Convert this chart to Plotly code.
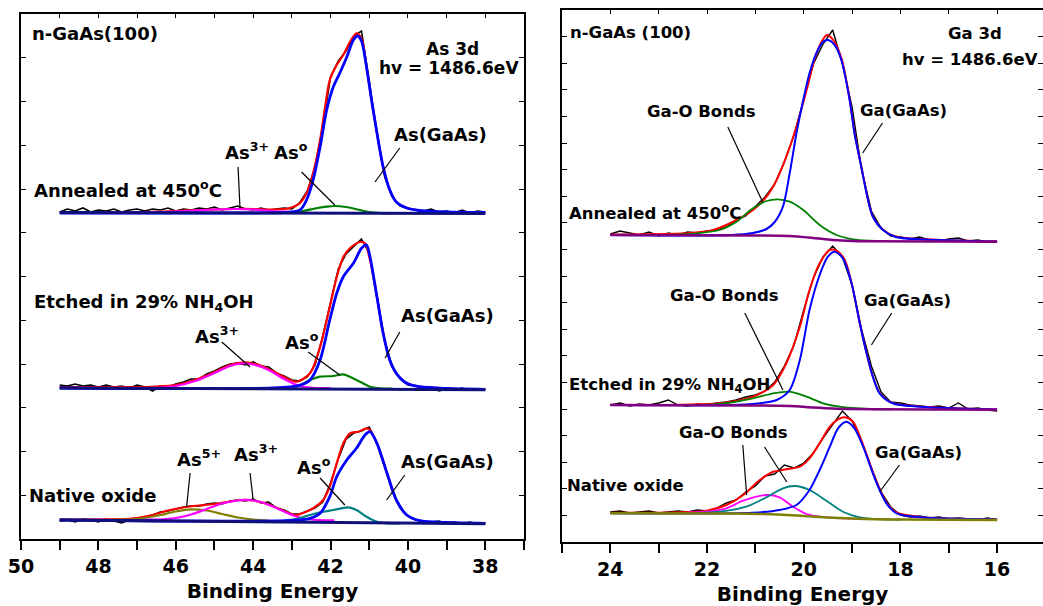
import plotly.graph_objects as go

# ---------------- LEFT PANEL: As 3d ----------------
E_RAW_L = [49.0, 48.8, 48.6, 48.4, 48.2, 48.0, 47.8, 47.6, 47.4, 47.2, 47.0, 46.8, 46.6, 46.4, 46.2, 46.0,
           45.8, 45.6, 45.4, 45.2, 45.0, 44.8, 44.6, 44.4, 44.2, 44.0, 43.8, 43.6, 43.4, 43.2, 43.0, 42.8,
           42.6, 42.4, 42.2, 42.0, 41.8, 41.6, 41.4, 41.2, 41.0, 40.8, 40.6, 40.4, 40.2, 40.0, 39.8, 39.6,
           39.4, 39.2, 39.0, 38.8, 38.6, 38.4, 38.2, 38.0]

# Annealed at 450 C
ann_raw = [327, 330, 328, 331, 327, 329, 328, 330, 327, 329, 330, 328, 330, 329, 331, 328,
           330, 329, 331, 330, 332, 329, 331, 333, 330, 329, 331, 329, 330, 331, 330, 336,
           348, 372, 412, 462, 478, 488, 503, 508, 458, 405, 362, 342, 333, 331, 329, 328,
           330, 327, 328, 326, 329, 326, 328, 327]
ann_red_E = [49, 48, 47, 46, 45.5, 45, 44.5, 44, 43.5, 43.2, 43.05, 42.8, 42.62, 42.45, 42.27, 42.14,
             42.02, 41.84, 41.67, 41.5, 41.33, 41.2, 41.07, 40.94, 40.8, 40.64, 40.47, 40.3, 40.03,
             39.7, 39, 38]
ann_red = [327, 327, 327, 328, 328.7, 329.5, 330, 330, 329.5, 330, 331, 335.7, 345.7, 365.7, 399, 432,
           459, 474, 484, 497, 505.7, 500.7, 472, 439, 406, 372, 349, 337, 331, 328.5, 327, 326.5]
ann_blue_E = [49, 44, 43.2, 42.79, 42.62, 42.45, 42.27, 42.1, 41.93, 41.76, 41.58, 41.41, 41.3, 41.2,
              41.07, 40.94, 40.8, 40.64, 40.47, 40.3, 40.03, 39.7, 39, 38]
ann_blue = [326, 326, 326.5, 329, 339, 359, 392, 429, 452, 466, 482, 499, 503, 498,
            472, 439, 406, 372, 349, 337, 331, 328.5, 327, 326.5]
ann_as0_E = [43.3, 43.0, 42.7, 42.4, 42.1, 41.9, 41.6, 41.3, 41.0, 40.7, 40.4]
ann_as0 = [326, 326.5, 328, 330.5, 332.3, 333, 332, 329.5, 327, 326, 326]
ann_as3_E = [47, 46.5, 46, 45.5, 45, 44.5, 44, 43.5, 43, 42.5]
ann_as3 = [326, 326.5, 327.5, 328.5, 329.5, 330, 329.5, 328, 327, 326]
ann_bg_E = [49, 38]
ann_bg = [326.5, 325.5]

# Etched in 29% NH4OH
etc_raw = [154, 153, 155, 153, 154, 152, 154, 152, 153, 151, 154, 152, 148, 153, 152, 155,
           157, 160, 160, 165, 168, 172, 175, 176, 174, 177, 173, 172, 166, 163, 159, 158,
           162, 174, 203, 236, 270, 285, 292, 300, 286, 240, 198, 172, 160, 154, 153, 151,
           152, 148, 150, 149, 151, 149, 150, 149]
etc_red_E = [49, 47, 46.5, 46, 45.5, 45, 44.6, 44.3, 44, 43.6, 43.2, 42.88, 42.53, 42.27, 42.02, 41.84,
             41.67, 41.5, 41.24, 41.11, 40.98, 40.8, 40.64, 40.47, 40.3, 40.03, 39.7, 39, 38]
etc_red = [152, 152, 152.5, 154, 159, 167, 174, 176.5, 175.5, 170, 162, 157.3, 165.7, 192, 232, 262,
           282, 290.7, 297, 295.7, 279, 242, 205.7, 179, 165.7, 155.7, 152.3, 150.5, 149.7]
etc_blue_E = [49, 43.5, 42.8, 42.53, 42.27, 42.02, 41.84, 41.67, 41.41, 41.2, 41.07, 40.98, 40.8, 40.64,
              40.47, 40.3, 40.03, 39.7, 39, 38]
etc_blue = [151, 151, 153.6, 159, 179, 219, 245.7, 262.3, 275.7, 290.7, 294, 282.3, 242, 205.7,
            179, 165.7, 155.7, 152.3, 150.5, 149.7]
etc_as0_E = [43.2, 42.9, 42.53, 42.27, 41.93, 41.67, 41.5, 41.24, 40.98, 40.72, 40.4]
etc_as0 = [151, 152, 159, 162.3, 163, 164.7, 162.3, 157.3, 152.3, 150.7, 150.3]
etc_as3_E = [47, 46.4, 46, 45.5, 45, 44.6, 44.3, 44, 43.6, 43.2, 42.8, 42.4, 42]
etc_as3 = [151, 151.5, 153, 158, 166, 173, 175.5, 174.5, 169, 160, 153, 151, 150.8]
etc_bg_E = [49, 38]
etc_bg = [151, 149.3]

# Native oxide
nat_raw = [18, 19, 17, 20, 19, 17, 20, 18, 16, 19, 21, 22, 24, 27, 28, 30,
           32, 33, 33, 35, 36, 35, 38, 39, 38, 40, 36, 37, 31, 29, 25, 25,
           28, 31, 37, 56, 80, 100, 106, 108, 112, 96, 72, 48, 31, 23, 19, 18,
           17, 18, 16, 17, 15, 17, 15, 16]
nat_red_E = [49, 47.5, 47.0, 46.6, 46.2, 45.8, 45.4, 45.0, 44.6, 44.3, 44.0, 43.6, 43.2, 42.9, 42.45,
             42.19, 42.02, 41.84, 41.67, 41.5, 41.28, 41.07, 40.98, 40.8, 40.54, 40.3, 40.03, 39.7, 39, 38]
nat_red = [19.5, 19.8, 21, 24, 28.5, 31.5, 33.5, 35, 37.5, 39, 38.5, 34.5, 28, 24, 30.7,
           39, 52.3, 75.7, 95.7, 105.7, 107.3, 110.7, 109, 95.7, 65.7, 39, 24, 18.3, 16.5, 15.7]
nat_blue_E = [49, 43, 42.53, 42.27, 42.02, 41.84, 41.58, 41.33, 41.11, 40.98, 40.8, 40.54, 40.3, 40.03,
              39.7, 39, 38]
nat_blue = [19, 18.5, 20.7, 25.7, 42.3, 62.3, 79, 90.7, 104, 107.3, 95.7, 65.7, 39, 24, 18.3, 16.5, 15.7]
nat_as0_E = [43.2, 42.9, 42.53, 42.19, 41.93, 41.54, 41.33, 41.07, 40.8, 40.54, 40.2]
nat_as0 = [18.5, 20, 24, 27.3, 29, 31.7, 29, 22.3, 17.3, 15.7, 15.5]
nat_as5_E = [47.6, 47.2, 46.8, 46.4, 46.0, 45.6, 45.2, 44.8, 44.4, 44.0, 43.6]
nat_as5 = [19.3, 19.5, 21, 24, 27.5, 29.7, 28.5, 25, 21.5, 19.5, 18.5]
nat_as3_E = [46.8, 46.4, 46, 45.6, 45.2, 44.8, 44.4, 44.1, 43.8, 43.4, 43.0, 42.7, 42.3, 41.9]
nat_as3 = [19.3, 19.5, 21, 24.5, 30, 35.5, 38.5, 39, 37, 31, 24, 20.5, 19, 18.6]
nat_bg_E = [49, 38]
nat_bg = [19, 15.3]

# ---------------- RIGHT PANEL: Ga 3d ----------------
E_RAW_R = [24.0, 23.8, 23.6, 23.4, 23.2, 23.0, 22.8, 22.6, 22.4, 22.2, 22.0, 21.8, 21.6, 21.4, 21.2, 21.0,
           20.8, 20.6, 20.4, 20.2, 20.0, 19.8, 19.6, 19.4, 19.2, 19.0, 18.8, 18.6, 18.4, 18.2, 18.0, 17.8,
           17.6, 17.4, 17.2, 17.0, 16.8, 16.6, 16.4, 16.2, 16.0]

gann_raw = [308, 311, 309, 307, 310, 306, 309, 307, 310, 309, 311, 312, 315, 322, 326, 335,
            345, 358, 380, 407, 443, 478, 498, 512, 478, 435, 372, 331, 314, 306, 305, 303,
            305, 302, 301, 303, 304, 301, 302, 300, 301]
gann_red_E = [24, 22.42, 21.87, 21.39, 21.05, 20.77, 20.56, 20.36, 20.15, 19.94, 19.77, 19.63, 19.52, 19.39,
              19.22, 19.05, 18.95, 18.81, 18.67, 18.57, 18.36, 18.1, 17.6, 16]
gann_red = [307.5, 308.7, 312, 322, 332, 345.3, 362, 385.3, 415.3, 452, 483.7, 500.3, 507, 502,
            484, 443, 409.7, 376, 342.5, 325.8, 312.3, 305.5, 303, 300.5]
gann_blue_E = [24, 21.5, 21.05, 20.77, 20.6, 20.43, 20.29, 20.15, 20.01, 19.88, 19.74, 19.6, 19.5, 19.36,
               19.22, 19.05, 18.95, 18.81, 18.67, 18.57, 18.36, 18.1, 17.6, 16]
gann_blue = [307, 307, 309, 313, 320, 335.3, 368.7, 408.7, 442, 468.7, 488.7, 500.3, 502, 497,
             482, 442, 408.7, 375.3, 342, 325.3, 312, 305, 302.7, 300.3]
gann_gao_E = [22.8, 22.22, 21.74, 21.39, 21.05, 20.77, 20.53, 20.29, 20.01, 19.67, 19.32, 18.98, 18.64, 18.3]
gann_gao = [307, 308.7, 312, 320.3, 333.7, 341, 342.7, 340.3, 332, 317, 307, 302.7, 301.3, 300.8]
gann_bg_E = [24, 21, 20.3, 19.8, 19.4, 19.0, 18.5, 16]
gann_bg = [307, 306.5, 306, 304, 302, 301, 300.7, 300.3]

getc_raw = [137, 139, 136, 138, 137, 139, 142, 137, 136, 138, 137, 139, 140, 142, 145, 147,
            151, 160, 176, 197, 232, 264, 285, 296, 285, 257, 212, 176, 150, 140, 139, 137,
            136, 135, 136, 134, 139, 133, 134, 132, 131]
getc_red_E = [24, 21.74, 21.05, 20.63, 20.36, 20.08, 19.88, 19.67, 19.46, 19.32, 19.15, 19.01, 18.84, 18.7,
              18.57, 18.43, 18.16, 17.6, 16]
getc_red = [137, 138.7, 145.3, 157, 178.7, 215.3, 252, 278.7, 292, 291.3, 282, 259, 219, 189,
            165.5, 149, 139, 135.5, 132.5]
getc_blue_E = [24, 21.5, 21.05, 20.56, 20.29, 20.08, 19.88, 19.67, 19.5, 19.36, 19.19, 19.01, 18.84, 18.7,
               18.57, 18.43, 18.16, 17.6, 16]
getc_blue = [137, 137, 138, 142, 152, 182, 232, 267, 285.3, 290.3, 283.7, 258.7, 218.7, 188.7,
             165.3, 148.7, 138.7, 135.3, 132.5]
getc_gao_E = [22.5, 21.74, 21.05, 20.63, 20.29, 19.94, 19.6, 19.26, 18.64, 18.2]
getc_gao = [136.7, 138, 143.7, 148.7, 150.3, 145.3, 138.7, 135.3, 133, 132.7]
getc_bg_E = [24, 21, 20.3, 19.8, 19.4, 19, 18.5, 16]
getc_bg = [137, 136.5, 136, 134.5, 133.5, 133, 132.7, 132.3]

gnat_raw = [30, 31, 29, 30, 31, 29, 30, 31, 30, 32, 31, 34, 39, 42, 50, 56,
            66, 68, 77, 74, 79, 89, 104, 117, 131, 121, 100, 74, 50, 35, 27, 25,
            26, 24, 25, 23, 24, 23, 22, 24, 22]
gnat_red_E = [24, 22.01, 21.6, 21.25, 20.91, 20.63, 20.36, 20.08, 19.88, 19.67, 19.46, 19.29, 19.15, 18.98,
              18.77, 18.57, 18.43, 18.29, 18.08, 17.6, 16]
gnat_red = [29.3, 31.3, 37, 47, 62, 70.3, 72.7, 75.3, 83.7, 98.7, 115.3, 122.7, 124.7, 120.3,
            97, 70, 53, 39.5, 29.5, 25, 22.5]
gnat_blue_E = [24, 21.05, 20.5, 20.15, 19.88, 19.67, 19.46, 19.29, 19.12, 18.95, 18.77, 18.57, 18.43,
               18.29, 18.08, 17.6, 16]
gnat_blue = [28.7, 29.3, 32, 37, 52, 72, 95.3, 113.7, 120.3, 113.7, 95.3, 68.7, 52,
             38.7, 28.7, 24.7, 22.5]
gnat_gao1_E = [22.4, 22.01, 21.6, 21.25, 20.77, 20.5, 20.22, 19.94, 19.53, 18.98, 18.5]
gnat_gao1 = [29.5, 30.3, 33.7, 41.3, 47, 44.7, 35.3, 28, 24.7, 23.3, 22.8]
gnat_gao2_E = [22.2, 21.74, 21.19, 20.77, 20.43, 20.19, 19.88, 19.53, 19.19, 18.84, 18.43, 18.0]
gnat_gao2 = [29, 30.3, 35.3, 44.7, 53.7, 56, 52, 41.3, 30.3, 24.7, 22.7, 22.5]
gnat_bg_E = [24, 21.5, 20.5, 20, 19.5, 19, 18.5, 18, 16]
gnat_bg = [28.7, 28.5, 27.5, 26, 24.5, 23.5, 22.8, 22.5, 22]

# ---------------- labels ----------------
X_TICKS_L = [50, 48, 46, 44, 42, 40, 38]
X_TICKS_R = [24, 22, 20, 18, 16]

BLACK, RED, BLUE = "#000000", "#FF0000", "#0000FF"
GREEN, MAGENTA, OLIVE, TEAL = "#008000", "#FF00FF", "#808000", "#008080"
NAVY, PURPLE = "#10107A", "#800080"

fig = go.Figure()


def add(x, y, color, width, ax, spline=True):
    fig.add_trace(go.Scatter(
        x=x, y=y, mode="lines",
        line=dict(color=color, width=width, shape="spline" if spline else "linear", smoothing=0.8),
        xaxis="x" if ax == 1 else "x2", yaxis="y" if ax == 1 else "y2",
        showlegend=False, hoverinfo="skip"))


# left panel
for raw, red, comps, blue, bg in [
    (ann_raw, (ann_red_E, ann_red), [(ann_as3_E, ann_as3, MAGENTA), (ann_as0_E, ann_as0, GREEN)],
     (ann_blue_E, ann_blue), (ann_bg_E, ann_bg)),
    (etc_raw, (etc_red_E, etc_red), [(etc_as3_E, etc_as3, MAGENTA), (etc_as0_E, etc_as0, GREEN)],
     (etc_blue_E, etc_blue), (etc_bg_E, etc_bg)),
    (nat_raw, (nat_red_E, nat_red), [(nat_as5_E, nat_as5, OLIVE), (nat_as3_E, nat_as3, MAGENTA),
                                     (nat_as0_E, nat_as0, TEAL)],
     (nat_blue_E, nat_blue), (nat_bg_E, nat_bg)),
]:
    add(E_RAW_L, raw, BLACK, 1.6, 1, spline=False)
    add(red[0], red[1], RED, 2.2, 1)
    for cx, cy, cc in comps:
        add(cx, cy, cc, 2.2, 1)
    add(blue[0], blue[1], BLUE, 2.8, 1)
    add(bg[0], bg[1], NAVY, 3, 1, spline=False)

# right panel
for raw, red, comps, blue, bg, bgc in [
    (gann_raw, (gann_red_E, gann_red), [(gann_gao_E, gann_gao, GREEN)],
     (gann_blue_E, gann_blue), (gann_bg_E, gann_bg), PURPLE),
    (getc_raw, (getc_red_E, getc_red), [(getc_gao_E, getc_gao, GREEN)],
     (getc_blue_E, getc_blue), (getc_bg_E, getc_bg), PURPLE),
    (gnat_raw, (gnat_red_E, gnat_red), [(gnat_gao1_E, gnat_gao1, MAGENTA), (gnat_gao2_E, gnat_gao2, TEAL)],
     (gnat_blue_E, gnat_blue), (gnat_bg_E, gnat_bg), OLIVE),
]:
    add(E_RAW_R, raw, BLACK, 1.4, 2, spline=False)
    add(red[0], red[1], RED, 2, 2)
    for cx, cy, cc in comps:
        add(cx, cy, cc, 1.8, 2)
    add(blue[0], blue[1], BLUE, 2, 2)
    add(bg[0], bg[1], bgc, 2.5, 2)

FONT = "DejaVu Sans"

# text labels: (text, x, y, xanchor, axis, size)
LABELS = [
    ("n-GaAs(100)", 49.77, 505, "left", 1, 18),
    ("As 3d", 38.86, 490, "center", 1, 17),
    ("hv = 1486.6eV", 37.08, 471, "right", 1, 17),
    ("As(GaAs)", 39.15, 404, "center", 1, 18),
    ("As<sup>3+</sup>", 44.78, 388, "left", 1, 18),
    ("As<sup>o</sup>", 43.51, 388, "left", 1, 18),
    ("Annealed at 450<sup>o</sup>C", 49.72, 350, "left", 1, 18),
    ("Etched in 29% NH<sub>4</sub>OH", 49.72, 236, "left", 1, 18),
    ("As<sup>3+</sup>", 45.56, 204, "left", 1, 18),
    ("As<sup>o</sup>", 43.23, 198, "left", 1, 18),
    ("As(GaAs)", 38.97, 223, "center", 1, 18),
    ("Native oxide", 49.84, 43, "left", 1, 18),
    ("As<sup>5+</sup>", 46.02, 81, "left", 1, 18),
    ("As<sup>3+</sup>", 44.55, 86, "left", 1, 18),
    ("As<sup>o</sup>", 42.92, 73, "left", 1, 18),
    ("As(GaAs)", 38.97, 77, "center", 1, 18),
    ("n-GaAs (100)", 24.88, 509, "left", 2, 16.5),
    ("Ga 3d", 16.45, 508, "center", 2, 16.5),
    ("hv = 1486.6eV", 15.12, 482, "right", 2, 16.5),
    ("Ga-O Bonds", 22.12, 430, "center", 2, 16.5),
    ("Ga(GaAs)", 17.93, 431, "center", 2, 16.5),
    ("Annealed at 450<sup>o</sup>C", 24.9, 330, "left", 2, 16.5),
    ("Ga-O Bonds", 21.63, 247, "center", 2, 16.5),
    ("Ga(GaAs)", 17.86, 242, "center", 2, 16.5),
    ("Etched in 29% NH<sub>4</sub>OH", 24.9, 157, "left", 2, 16.5),
    ("Ga-O Bonds", 21.46, 110, "center", 2, 16.5),
    ("Ga(GaAs)", 17.62, 90, "center", 2, 16.5),
    ("Native oxide", 24.94, 57, "left", 2, 16.5),
]

# leader lines: (x0, y0, x1, y1, axis)
LEADERS = [
    (44.39, 372, 44.34, 331, 1), (42.75, 367, 41.89, 334, 1), (40.21, 391, 40.85, 357, 1),
    (44.81, 197, 44.08, 172, 1), (42.58, 187, 41.76, 164, 1), (40.21, 207, 40.59, 181, 1),
    (45.63, 66, 45.72, 32, 1), (44.08, 66, 44.0, 39, 1), (42.27, 61, 41.63, 34, 1), (40.08, 64, 40.55, 39, 1),
    (21.57, 415, 20.85, 340, 2), (18.37, 419, 18.78, 389, 2),
    (21.22, 229, 20.43, 152, 2), (18.18, 229, 18.6, 197, 2),
    (21.26, 97, 21.18, 47, 2), (20.81, 95, 20.35, 60, 2), (18.02, 77, 18.43, 50, 2),
]

annotations = []
for t, x, y, xa, ax, sz in LABELS:
    annotations.append(dict(text=t, x=x, y=y, xref="x" if ax == 1 else "x2", yref="y" if ax == 1 else "y2",
                            xanchor=xa, yanchor="middle", showarrow=False,
                            font=dict(family=FONT, size=sz, color="black", weight="bold")))
shapes = []
for x0, y0, x1, y1, ax in LEADERS:
    shapes.append(dict(type="line", x0=x0, y0=y0, x1=x1, y1=y1, xref="x" if ax == 1 else "x2",
                       yref="y" if ax == 1 else "y2", line=dict(color="black", width=1.2)))

W, H = 1043, 606
xcommon = dict(showline=True, linecolor="black", linewidth=2, mirror=True, ticks="outside",
               ticklen=9, tickwidth=1.5, tickcolor="black", showgrid=False, zeroline=False,
               automargin=False,
               tickfont=dict(family=FONT, size=19, color="black", weight="bold"),
               minor=dict(dtick=1, ticks="outside", ticklen=9, tickwidth=1.5, tickcolor="black", showgrid=False),
               title=dict(text="Binding Energy", font=dict(family=FONT, size=20, color="black", weight="bold"),
                          standoff=8))
xtop = dict(side="top", ticks="inside", ticklen=4, tickwidth=1, tickcolor="black", dtick=1,
            showticklabels=False, showgrid=False, zeroline=False, showline=False, automargin=False)
ycommon = dict(showline=True, linecolor="black", linewidth=2, mirror="ticks", ticks="inside",
               ticklen=5, tickwidth=1.2, tickcolor="black", showgrid=False, zeroline=False,
               showticklabels=False, automargin=False)

fig.update_layout(
    width=W, height=H, margin=dict(l=0, r=0, t=0, b=0, autoexpand=False),
    paper_bgcolor="white", plot_bgcolor="white",
    xaxis=dict(domain=[21 / W, 524 / W], range=[50, 37], tickvals=X_TICKS_L, anchor="y", **xcommon),
    xaxis2=dict(domain=[562 / W, 1.0], range=[25, 15.05], tickvals=X_TICKS_R, anchor="y2", **xcommon),
    xaxis3=dict(overlaying="x", anchor="y", range=[50, 37], **xtop),
    xaxis4=dict(overlaying="x2", anchor="y2", range=[25, 15.05], **xtop),
    yaxis=dict(domain=[(H - 539) / H, (H - 14) / H], range=[0, 525], dtick=43.75, tick0=0,
               anchor="x", **ycommon),
    yaxis2=dict(domain=[(H - 542) / H, (H - 10) / H], range=[0, 532], dtick=26.6, tick0=0,
                anchor="x2", **ycommon),
    annotations=annotations, shapes=shapes,
)
# invisible traces to activate the top tick axes
fig.add_trace(go.Scatter(x=[50], y=[0], xaxis="x3", yaxis="y", mode="markers",
                         marker=dict(opacity=0), showlegend=False, hoverinfo="skip"))
fig.add_trace(go.Scatter(x=[25], y=[0], xaxis="x4", yaxis="y2", mode="markers",
                         marker=dict(opacity=0), showlegend=False, hoverinfo="skip"))

fig.write_html("out.html")
